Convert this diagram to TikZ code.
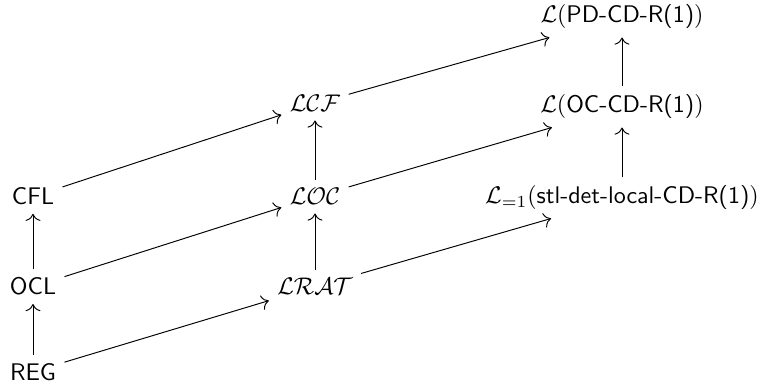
\documentclass[tikz,border=0pt]{standalone}
\usetikzlibrary{cd,arrows.meta}
\begin{document}
\begin{tikzpicture}[x=0.416pt,y=-0.416pt,
  lab/.style={font=\sffamily, anchor=base},
  arr/.style={-{cm to[scale=1.2]}}]
\useasboundingbox (0,0) rectangle (762,387);
\node[lab] (reg) at (33,380) {REG};
\node[lab] (ocl) at (33,295) {OCL};
\node[lab] (cfl) at (33,205) {CFL};
\node[lab] (lrat) at (315,295) {$\mathcal{LRAT}$};
\node[lab] (loc) at (315,205) {$\mathcal{LOC}$};
\node[lab] (lcf) at (315,112) {$\mathcal{LCF}$};
\node[lab] (stl) at (622,204) {$\mathcal{L}_{=1}(\textsf{stl-det-local-CD-R(1)})$};
\node[lab] (occd) at (622,113) {$\mathcal{L}(\textsf{OC-CD-R(1)})$};
\node[lab] (pdcd) at (622,23) {$\mathcal{L}(\textsf{PD-CD-R(1)})$};
\draw[arr] (reg) -- (ocl);
\draw[arr] (ocl) -- (cfl);
\draw[arr] (lrat) -- (loc);
\draw[arr] (loc) -- (lcf);
\draw[arr] (stl) -- (occd);
\draw[arr] (occd) -- (pdcd);
\draw[arr] (reg) -- (lrat);
\draw[arr] (ocl) -- (loc);
\draw[arr] (cfl) -- (lcf);
\draw[arr] (lrat) -- (stl);
\draw[arr] (loc) -- (occd);
\draw[arr] (lcf) -- (pdcd);
\end{tikzpicture}
\end{document}
